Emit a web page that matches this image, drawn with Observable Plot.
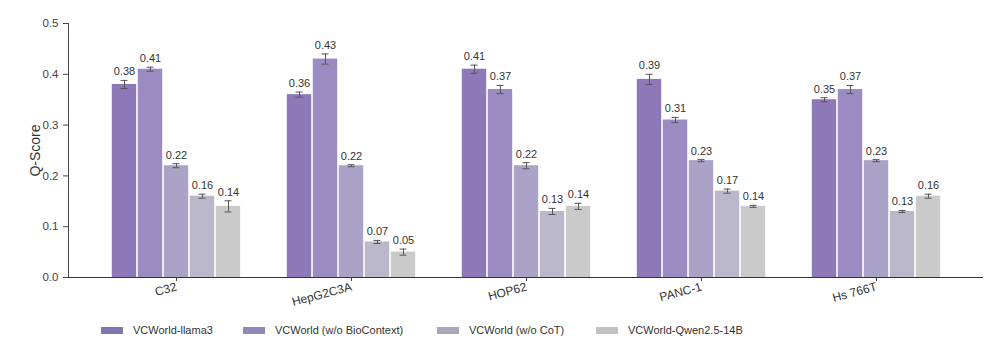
<!DOCTYPE html>
<html>
<head>
<meta charset="utf-8">
<script src="https://cdn.jsdelivr.net/npm/d3@7"></script>
<script src="https://cdn.jsdelivr.net/npm/@observablehq/plot@0.6"></script>
<style>
  html, body { margin: 0; padding: 0; background: #fff; }
  body { width: 1000px; height: 348px; overflow: hidden; font-family: "Liberation Sans", Arial, sans-serif; }
  #legend { position: relative; height: 36px; width: 1000px; }
  .item { position: absolute; top: 0; height: 36px; display: flex; align-items: center; font-size: 11px; color: #333; white-space: nowrap; }
  .sw { width: 22px; height: 7px; margin-right: 10px; }
</style>
</head>
<body>
<div id="chart"></div>
<div id="legend"></div>
<script>
const groups = ["C32", "HepG2C3A", "HOP62", "PANC-1", "Hs 766T"];
const seriesNames = ["VCWorld-llama3", "VCWorld (w/o BioContext)", "VCWorld (w/o CoT)", "VCWorld-Qwen2.5-14B", "VCWorld-other"];
const legendNames = ["VCWorld-llama3", "VCWorld (w/o BioContext)", "VCWorld (w/o CoT)", "VCWorld-Qwen2.5-14B"];
const colors = ["#8d79b8", "#9b8bc2", "#aba2c8", "#bab7ca", "#c9cac9"];
const legendColors = ["#8275ad", "#9088b8", "#a9a6b8", "#c2c2c4"];
// values[series][group]
const values = [
  [0.38, 0.36, 0.41, 0.39, 0.35],
  [0.41, 0.43, 0.37, 0.31, 0.37],
  [0.22, 0.22, 0.22, 0.23, 0.23],
  [0.16, 0.07, 0.13, 0.17, 0.13],
  [0.14, 0.05, 0.14, 0.14, 0.16]
];
const errors = [
  [0.008, 0.005, 0.008, 0.010, 0.004],
  [0.004, 0.010, 0.008, 0.005, 0.008],
  [0.004, 0.002, 0.006, 0.002, 0.002],
  [0.004, 0.003, 0.006, 0.004, 0.002],
  [0.011, 0.006, 0.006, 0.002, 0.004]
];
const yTicks = [0, 0.1, 0.2, 0.3, 0.4, 0.5];

const barStep = 26;
const marks = [];
seriesNames.forEach((s, i) => {
  const rows = groups.map((g, j) => ({group: g, series: s, value: values[i][j], err: errors[i][j]}));
  const dx = (i - 2) * barStep;
  marks.push(Plot.barY(rows, {x: "group", y: "value", fill: colors[i], dx, insetLeft: 0.8, insetRight: 0.8}));
  marks.push(Plot.ruleX(rows, {x: "group", y1: d => d.value - d.err, y2: d => d.value + d.err, stroke: "#555", strokeWidth: 1, dx}));
  marks.push(Plot.tickY(rows, {x: "group", y: d => d.value + d.err, stroke: "#555", strokeWidth: 1, dx, insetLeft: 9.5, insetRight: 9.5}));
  marks.push(Plot.tickY(rows, {x: "group", y: d => d.value - d.err, stroke: "#555", strokeWidth: 1, dx, insetLeft: 9.5, insetRight: 9.5}));
  marks.push(Plot.text(rows, {x: "group", y: d => d.value + d.err, text: d => d.value.toFixed(2), dx, dy: -5, lineAnchor: "bottom", fontSize: 11, fill: "#333"}));
});
marks.push(Plot.ruleY([0], {stroke: "#333", strokeWidth: 1.2}));

const chart = Plot.plot({
  width: 1000,
  height: 312,
  marginLeft: 68,
  marginRight: 17,
  marginTop: 23,
  marginBottom: 35,
  style: {fontFamily: "Liberation Sans, Arial, sans-serif", fontSize: "11.5px", color: "#444", background: "#fff"},
  x: {domain: groups, paddingInner: 1 - 26 / 175, paddingOuter: 0.54, label: null, tickSize: 4, tickRotate: -15, tickPadding: 5},
  y: {domain: [0, 0.5], ticks: yTicks, tickFormat: d => d.toFixed(1), label: "Q-Score", labelAnchor: "center", labelArrow: "none", labelOffset: 38, line: true, tickSize: 5, tickPadding: 5},
  marks
});
document.getElementById("chart").appendChild(chart);

const svg = d3.select(chart);
svg.selectAll("[aria-label='y-axis label']").attr("font-size", 14).attr("fill", "#333");
svg.selectAll("[aria-label='x-axis tick label']").attr("font-size", 12).attr("fill", "#333");

const legendX = [101, 243, 437, 596];
const legend = document.getElementById("legend");
legendNames.forEach((n, i) => {
  const it = document.createElement("div");
  it.className = "item";
  it.style.left = legendX[i] + "px";
  it.innerHTML = `<div class="sw" style="background:${legendColors[i]}"></div><span>${n}</span>`;
  legend.appendChild(it);
});
</script>
</body>
</html>
